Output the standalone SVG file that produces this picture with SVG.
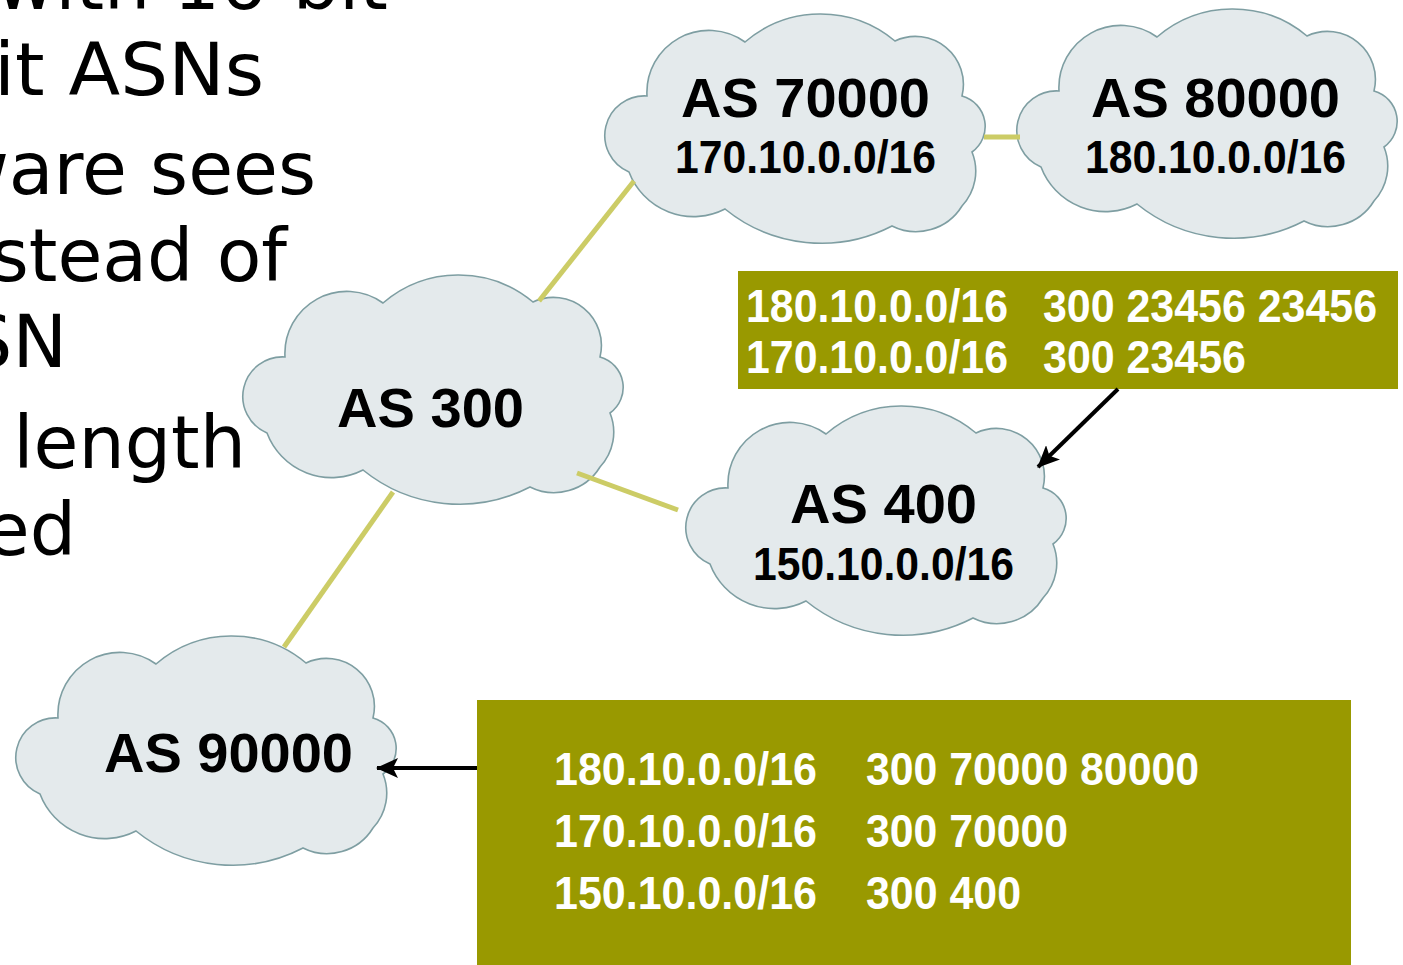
<svg xmlns="http://www.w3.org/2000/svg" width="1403" height="965" viewBox="0 0 1403 965">
<style>
.slide{font-family:"DejaVu Sans",Verdana,sans-serif;font-size:73px;fill:#000;text-anchor:end}
.cloud{fill:#E4EAEC;stroke:#7E9EA2;stroke-width:1.6}
.t1{font-family:"Liberation Sans",Arial,sans-serif;font-weight:bold;font-size:56px;fill:#000}
.t2{font-family:"Liberation Sans",Arial,sans-serif;font-weight:bold;font-size:46px;fill:#000}
.bt{font-family:"Liberation Sans",Arial,sans-serif;font-weight:bold;font-size:47px;fill:#fff}
.box{fill:#999900}
.link{stroke:#CCCC66;stroke-width:5;fill:none}
.arrow{stroke:#000;stroke-width:4;fill:none}
</style>
<defs>
<path id="cloudShape" d="M42,82 A62,62 0 0 1 140,28 A116,116 0 0 1 290,27 A48,48 0 0 1 357,82 A31.5,31.5 0 0 1 367,138 A51,51 0 0 1 357,192 A54,54 0 0 1 287,212 A153,153 0 0 1 120,195 A69,69 0 0 1 24,158 A39.6,39.6 0 0 1 42,82 Z"/>
<marker id="ah" markerUnits="userSpaceOnUse" viewBox="0 0 22 20" markerWidth="22" markerHeight="20" refX="21" refY="10" orient="auto">
<path d="M0,0 L22,10 L0,20 L5,10 Z" fill="#000"/>
</marker>
</defs>

<g id="slide-text">
<text class="slide" x="388" y="9">with 16-bit</text>
<text class="slide" x="264" y="95" textLength="270" lengthAdjust="spacingAndGlyphs">it ASNs</text>
<text class="slide" x="316" y="194">ware sees</text>
<text class="slide" x="287" y="281">stead of</text>
<text class="slide" x="67" y="367">SN</text>
<text class="slide" x="246" y="468">length</text>
<text class="slide" x="76" y="555">ed</text>
</g>

<g id="node-as70000">
<use href="#cloudShape" class="cloud" transform="translate(605,14)"/>
<text class="t1" x="681" y="117" textLength="249" lengthAdjust="spacingAndGlyphs">AS 70000</text>
<text class="t2" x="675" y="173" textLength="261" lengthAdjust="spacingAndGlyphs">170.10.0.0/16</text>
</g>

<g id="node-as80000">
<use href="#cloudShape" class="cloud" transform="translate(1017,9)"/>
<text class="t1" x="1091" y="117" textLength="249" lengthAdjust="spacingAndGlyphs">AS 80000</text>
<text class="t2" x="1085" y="173" textLength="261" lengthAdjust="spacingAndGlyphs">180.10.0.0/16</text>
</g>

<g id="node-as300">
<use href="#cloudShape" class="cloud" transform="translate(243,275)"/>
<text class="t1" x="337" y="427" textLength="187" lengthAdjust="spacingAndGlyphs">AS 300</text>
</g>

<g id="node-as400">
<use href="#cloudShape" class="cloud" transform="translate(686,406)"/>
<text class="t1" x="790" y="523" textLength="187" lengthAdjust="spacingAndGlyphs">AS 400</text>
<text class="t2" x="753" y="580" textLength="261" lengthAdjust="spacingAndGlyphs">150.10.0.0/16</text>
</g>

<g id="node-as90000">
<use href="#cloudShape" class="cloud" transform="translate(16,636)"/>
<text class="t1" x="104" y="772" textLength="249" lengthAdjust="spacingAndGlyphs">AS 90000</text>
</g>

<g id="node-table400">
<rect class="box" x="738" y="271" width="660" height="118"/>
<text class="bt" x="746" y="322" textLength="262" lengthAdjust="spacingAndGlyphs">180.10.0.0/16</text>
<text class="bt" x="1043" y="322" textLength="334" lengthAdjust="spacingAndGlyphs">300 23456 23456</text>
<text class="bt" x="746" y="373" textLength="262" lengthAdjust="spacingAndGlyphs">170.10.0.0/16</text>
<text class="bt" x="1043" y="373" textLength="203" lengthAdjust="spacingAndGlyphs">300 23456</text>
</g>

<g id="node-table90000">
<rect class="box" x="477" y="700" width="874" height="265"/>
<text class="bt" x="554" y="785" textLength="263" lengthAdjust="spacingAndGlyphs">180.10.0.0/16</text>
<text class="bt" x="866" y="785" textLength="333" lengthAdjust="spacingAndGlyphs">300 70000 80000</text>
<text class="bt" x="554" y="847" textLength="263" lengthAdjust="spacingAndGlyphs">170.10.0.0/16</text>
<text class="bt" x="866" y="847" textLength="202" lengthAdjust="spacingAndGlyphs">300 70000</text>
<text class="bt" x="554" y="909" textLength="263" lengthAdjust="spacingAndGlyphs">150.10.0.0/16</text>
<text class="bt" x="866" y="909" textLength="155" lengthAdjust="spacingAndGlyphs">300 400</text>
</g>

<g id="connectors">
<line class="link" x1="539" y1="301" x2="634" y2="181"/>
<line class="link" x1="577" y1="473" x2="678" y2="510"/>
<line class="link" x1="393" y1="492" x2="284" y2="647"/>
<line class="link" x1="984" y1="137" x2="1020" y2="137"/>
<line class="arrow" x1="1118" y1="389" x2="1038" y2="467" marker-end="url(#ah)"/>
<line class="arrow" x1="477" y1="768" x2="377" y2="768" marker-end="url(#ah)"/>
</g>
</svg>
